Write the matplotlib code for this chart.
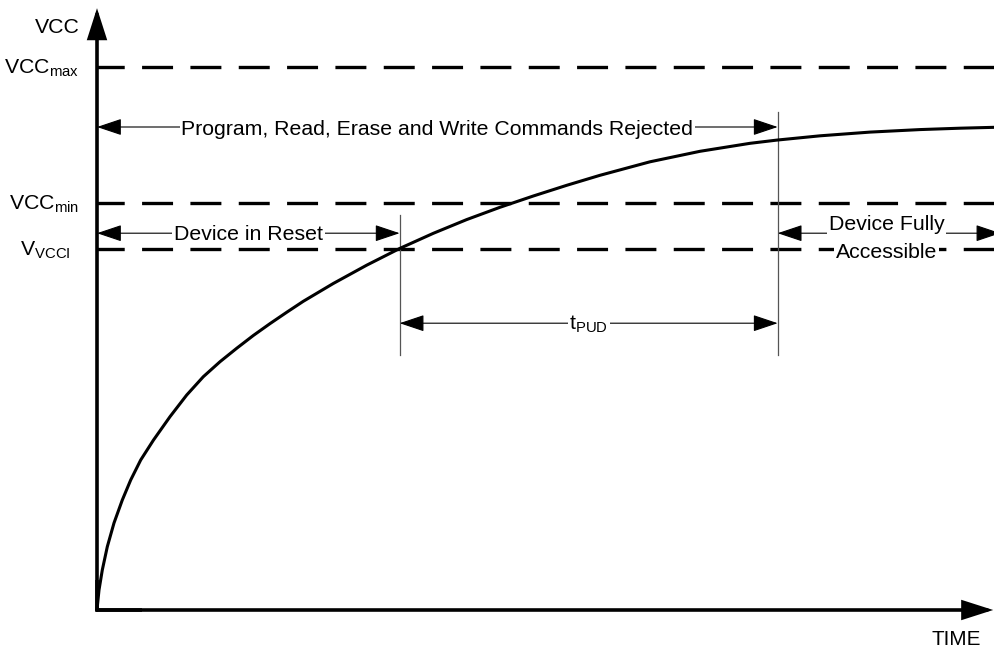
import matplotlib
matplotlib.use("Agg")
import matplotlib.pyplot as plt

plt.rcParams['font.family'] = ['Liberation Sans', 'DejaVu Sans']
plt.rcParams['mathtext.fontset'] = 'custom'
plt.rcParams['mathtext.rm'] = 'Liberation Sans'
plt.rcParams['mathtext.default'] = 'regular'
plt.rcParams['lines.scale_dashes'] = False

# ---------------- data ----------------
# time in % of the window, voltage in % of the axis height
curve_t = [0.0, 0.033, 0.223, 0.590, 1.147, 1.893, 2.817, 3.753, 4.866, 6.292,
           8.129, 9.989, 11.837, 13.697, 15.557, 17.405, 19.265, 21.125, 22.973,
           26.314, 30.033, 33.742, 37.450, 41.169, 44.878, 48.586, 52.305, 56.013,
           61.581, 67.149, 72.717, 75.724, 80.512, 86.080, 91.648, 96.102, 100.0]
curve_v = [0.0, 0.55, 3.33, 6.67, 10.55, 14.5, 18.33, 21.67, 25.0, 28.33,
           32.22, 35.83, 38.88, 41.38, 43.62, 45.75, 47.73, 49.62, 51.45,
           54.42, 57.47, 60.28, 62.78, 65.07, 67.12, 69.0, 70.78, 72.45,
           74.70, 76.45, 77.78, 78.32, 79.03, 79.65, 80.07, 80.30, 80.45]

level_labels = ["VCC$_{max}$", "VCC$_{min}$", "V$_{VCCI}$"]
level_values = [90.5, 67.8, 60.2]
level_label_x = [-1.95, -1.95, -2.9]

t_reset = 33.7     # curve crosses V_VCCI
t_access = 75.8    # end of tPUD

arrow_rejected_v = 80.5
arrow_reset_v = 62.8
arrow_tpud_v = 47.8
marker_top = [65.8, 83.0]
marker_bottom = 42.5

axis_top = 100.3
axis_right = 99.8

txt_rejected = "Program, Read, Erase and Write Commands Rejected"
txt_reset = "Device in Reset"
txt_tpud = "t$_{PUD}$"
txt_access = ["Device Fully", "Accessible"]
y_label = "VCC"
x_label = "TIME"

# ---------------- figure ----------------
fig = plt.figure(figsize=(9.95, 6.51), dpi=100)
ax = fig.add_axes([0, 0, 1, 1])
ax.set_xlim(-97 / 8.98, 100)
ax.set_ylim((610 - 651) / 6, 610 / 6)
ax.axis('off')

FS = 15.3

# axes with arrows
ax.plot([0, 0, 5], [5, 0, 0], color='black', lw=2.6, solid_joinstyle='miter',
        solid_capstyle='butt', zorder=4)
big_head = dict(arrowstyle='-|>,head_length=17.5,head_width=5.6', mutation_scale=1,
                lw=2.6, color='black', shrinkA=0, shrinkB=0, joinstyle='miter')
ax.annotate('', xy=(0, axis_top), xytext=(0, 0), arrowprops=big_head, zorder=4,
            annotation_clip=False)
ax.annotate('', xy=(axis_right, 0), xytext=(0, 0), arrowprops=big_head, zorder=4,
            annotation_clip=False)

# dashed voltage levels
for v in level_values:
    ax.plot([0, 100], [v, v], color='black', lw=2.4,
            linestyle=(2.7, (22.3, 12.5)), dash_capstyle='butt', zorder=2)

# labels of levels
for lab, v, lx in zip(level_labels, level_values, level_label_x):
    ax.text(lx, v - 1.1, lab, ha='right', va='baseline', fontsize=FS)
ax.text(-1.9, 96.2, y_label, ha='right', va='baseline', fontsize=FS)
ax.text(95.7, -5.83, x_label, ha='center', va='baseline', fontsize=FS * 0.97)

# power-up curve
ax.plot(curve_t, curve_v, color='black', lw=2.2, solid_joinstyle='round',
        solid_capstyle='butt', zorder=3)

# vertical markers
for t, top in zip([t_reset, t_access], marker_top):
    ax.plot([t, t], [marker_bottom, top], color='#555555', lw=0.9, zorder=2)

thin = dict(arrowstyle='<|-|>,head_length=15.5,head_width=5.2', mutation_scale=1,
            lw=0.8, color='black', shrinkA=0, shrinkB=0)
box = dict(boxstyle='square,pad=0.08', fc='white', ec='none')


def span(t0, t1, v):
    ax.annotate('', xy=(t1, v), xytext=(t0, v), arrowprops=thin, zorder=3,
                annotation_clip=False)


span(0, t_access, arrow_rejected_v)
ax.text(t_access / 2, arrow_rejected_v - 1.3, txt_rejected, ha='center', va='baseline',
        fontsize=FS, bbox=box, zorder=5)

span(0, t_reset, arrow_reset_v)
ax.text(t_reset / 2, arrow_reset_v - 1.2, txt_reset, ha='center', va='baseline',
        fontsize=FS, bbox=box, zorder=5)

span(t_reset, t_access, arrow_tpud_v)
ax.text((t_reset + t_access) / 2, arrow_tpud_v - 1.15, txt_tpud, ha='center',
        va='baseline', fontsize=FS, bbox=box, zorder=5)

span(t_access, 100.6, arrow_reset_v)
mid = (t_access + 100) / 2
ax.text(mid, arrow_reset_v + 0.6, txt_access[0], ha='center', va='baseline',
        fontsize=FS, bbox=box, zorder=5)
ax.text(mid, arrow_reset_v - 4.2, txt_access[1], ha='center', va='baseline',
        fontsize=FS, bbox=box, zorder=5)

fig.savefig('out.png', dpi=100, facecolor='white')
